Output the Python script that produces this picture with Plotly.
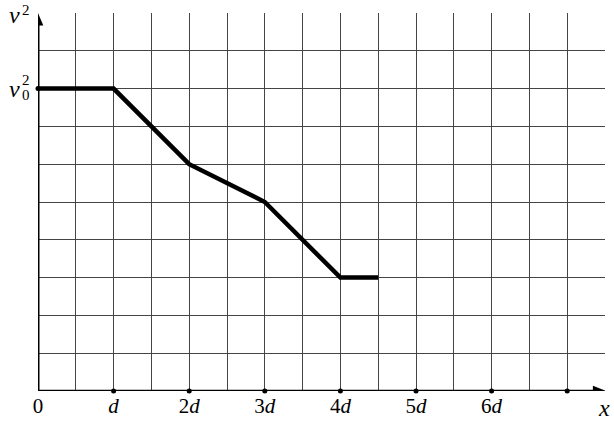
import plotly.graph_objects as go

# data (x in units of d, y in grid units of v^2)
x_vals = [0, 1, 2, 3, 4, 4.5]
v2_vals = [8, 8, 6, 5, 3, 3]
x_tick_pos = [0, 1, 2, 3, 4, 5, 6]
x_tick_text = ["0", "<i>d</i>", "2<i>d</i>", "3<i>d</i>", "4<i>d</i>", "5<i>d</i>", "6<i>d</i>"]
x_dot_pos = [1, 2, 3, 4, 5, 6, 7]
v0_level = 8
x_max = 7.5
y_max = 10

FONT = "Liberation Serif"

fig = go.Figure()
fig.add_trace(go.Scatter(x=x_vals, y=v2_vals, mode="lines",
                         line=dict(color="black", width=4.5), cliponaxis=False,
                         showlegend=False, hoverinfo="skip"))
fig.add_trace(go.Scatter(x=x_dot_pos + [0], y=[0] * len(x_dot_pos) + [v0_level], mode="markers",
                         marker=dict(color="black", size=5), cliponaxis=False,
                         showlegend=False, hoverinfo="skip"))

grid = dict(showgrid=True, gridcolor="#444", gridwidth=1)
fig.update_layout(
    width=614, height=421,
    font=dict(family=FONT, color="black"),
    margin=dict(l=38, r=9, t=13, b=30, autoexpand=False),
    plot_bgcolor="white", paper_bgcolor="white",
    xaxis=dict(range=[0, x_max], tickvals=x_tick_pos, ticktext=x_tick_text,
               tickfont=dict(family=FONT, size=21, color="black"),
               ticks="", ticklen=0, zeroline=False, showline=False, automargin=False,
               minor=dict(dtick=0.5, tick0=0, showgrid=True, gridcolor="#444", gridwidth=1),
               **grid),
    yaxis=dict(range=[0, y_max], dtick=1, tick0=0, showticklabels=False, automargin=False,
               ticks="", zeroline=False, showline=False, **grid),
)

# axes with arrows
fig.add_shape(type="line", x0=0, y0=0, x1=x_max - 0.1, y1=0, xref="x", yref="y",
              line=dict(color="black", width=2.5), layer="above")
fig.add_shape(type="line", x0=0, y0=0, x1=0, y1=y_max - 0.2, xref="x", yref="y",
              line=dict(color="black", width=3), layer="above")
fig.add_shape(type="path", xref="x", yref="y",
              path=f"M {x_max + 0.02} 0 L {x_max - 0.16} 0.14 L {x_max - 0.16} -0.14 Z",
              fillcolor="black", line=dict(width=0), layer="above")
fig.add_shape(type="path", xref="x", yref="y",
              path=f"M 0 {y_max} L 0.07 {y_max - 0.33} L -0.07 {y_max - 0.33} Z",
              fillcolor="black", line=dict(width=0), layer="above")


def label(text, y, size, xanchor, xshift, yshift):
    fig.add_annotation(x=0, y=y, xref="x", yref="y", text=text, showarrow=False,
                       xanchor=xanchor, yanchor="middle", xshift=xshift, yshift=yshift,
                       borderpad=0, font=dict(family=FONT, size=size, color="black"))


# v^2 at top of the vertical axis
label("<i>v</i>", y_max, 24, "right", -17, -2)
label("2", y_max, 15, "left", -17, 3)
# v0^2 at the v0 level (stacked sub/superscript)
label("<i>v</i>", v0_level, 24, "right", -17, 0)
label("2", v0_level, 15, "left", -17, 9)
label("0", v0_level, 15, "left", -17, -6)

fig.add_annotation(x=x_max, y=0, xref="x", yref="y", text="<i>x</i>",
                   showarrow=False, xanchor="right", yanchor="top", xshift=7, yshift=-2,
                   font=dict(family=FONT, size=24, color="black"))

fig.write_html("out.html", config={"displayModeBar": False},
               post_script="document.body.style.margin='0';document.body.style.overflow='hidden';")
